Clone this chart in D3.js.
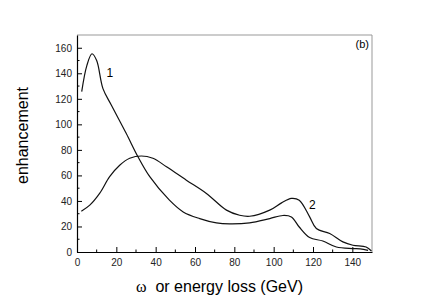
<!DOCTYPE html>
<html>
<head>
<meta charset="utf-8">
<script src="https://cdn.jsdelivr.net/npm/d3@7"></script>
<style>
  body { margin: 0; background: #fff; }
  text { font-family: "Liberation Sans", Arial, sans-serif; }
</style>
</head>
<body>
<svg width="434" height="303"></svg>
<script>
// curve 1: sharp peak near 8 GeV
const curve1X = [2.4, 5, 7.6, 10, 13.2, 17.5, 25, 31, 37, 47, 54, 62.4, 70.9, 77.6, 87.8, 98, 104.7, 109, 113, 118.3, 125, 131.9, 140.3, 144, 148];
const curve1Y = [125.7, 146, 155.3, 150, 128, 115, 93, 74.6, 59, 40.6, 31.4, 26.2, 22.8, 22, 22.8, 26.2, 28.6, 27.5, 19.6, 11.3, 8.6, 3.9, 2.7, 2.4, 1.3];
// curve 2: broad bump near 32 GeV
const curve2X = [2.2, 6.5, 11.5, 16.6, 21.7, 26.8, 32.7, 38.6, 45.5, 55.6, 65.8, 76, 82.7, 87.8, 98, 104, 109, 113, 118.3, 121.7, 128.5, 135.2, 140.3, 147, 149.7];
const curve2Y = [32, 36.7, 45.9, 59, 68, 73.4, 75.2, 73.4, 66.8, 56.3, 45.9, 32.8, 28.8, 28, 32.8, 38.5, 42, 40.6, 27.5, 18.4, 14.5, 7.9, 5.3, 3.9, 0.8];
const xTicks = [0, 20, 40, 60, 80, 100, 120, 140];
const yTicks = [0, 20, 40, 60, 80, 100, 120, 140, 160];

const svg = d3.select("svg");
const margin = { left: 77, right: 62, top: 35, bottom: 51 };
const width = 434 - margin.left - margin.right,
      height = 303 - margin.top - margin.bottom;

const x = d3.scaleLinear().domain([0, 150]).range([0, width]);
const y = d3.scaleLinear().domain([0, 170]).range([height, 0]);

const g = svg.append("g").attr("transform", `translate(${margin.left},${margin.top})`);

// top and right frame, light
g.append("path")
  .attr("d", `M0,0H${width}V${height}`)
  .attr("fill", "none")
  .attr("stroke", "#999")
  .attr("stroke-width", 1);

// minor ticks
g.append("g")
  .selectAll("line")
  .data(d3.range(10, 150, 20))
  .enter().append("line")
  .attr("x1", d => x(d)).attr("x2", d => x(d))
  .attr("y1", height).attr("y2", height - 2.5)
  .attr("stroke", "#000");
g.append("g")
  .selectAll("line")
  .data(d3.range(10, 170, 20))
  .enter().append("line")
  .attr("y1", d => y(d)).attr("y2", d => y(d))
  .attr("x1", 0).attr("x2", 2.5)
  .attr("stroke", "#000");

let xAxis = g.append("g")
  .attr("transform", `translate(0,${height})`)
  .call(d3.axisBottom(x).tickValues(xTicks).tickSizeInner(-5).tickSizeOuter(0).tickPadding(7));
let yAxis = g.append("g")
  .call(d3.axisLeft(y).tickValues(yTicks).tickSizeInner(-5).tickSizeOuter(0).tickPadding(5));

[xAxis, yAxis].forEach(a => {
  a.select(".domain").attr("stroke", "#000").attr("stroke-width", 1.2);
  a.selectAll("text")
    .attr("font-family", "Liberation Sans, Arial, sans-serif")
    .attr("font-size", 10)
    .attr("fill", "#222");
});
yAxis.selectAll("text").attr("dy", "0.35em");

const line = d3.line()
  .x(d => x(d[0]))
  .y(d => y(d[1]))
  .curve(d3.curveCatmullRom.alpha(0.5));

g.append("path")
  .datum(d3.zip(curve1X, curve1Y))
  .attr("d", line)
  .attr("fill", "none")
  .attr("stroke", "#111")
  .attr("stroke-width", 1.2);

g.append("path")
  .datum(d3.zip(curve2X, curve2Y))
  .attr("d", line)
  .attr("fill", "none")
  .attr("stroke", "#111")
  .attr("stroke-width", 1.2);

// curve labels
g.append("text").attr("x", x(15)).attr("y", y(140)).attr("dy", "0.35em")
  .attr("font-size", 12).text("1");
g.append("text").attr("x", x(118)).attr("y", y(37)).attr("dy", "0.35em")
  .attr("font-size", 12).text("2");
g.append("text").attr("x", width - 3).attr("y", 13)
  .attr("text-anchor", "end").attr("font-size", 11).text("(b)");

// axis titles
svg.append("text")
  .attr("transform", `translate(28,${margin.top + height / 2 - 8}) rotate(-90)`)
  .attr("text-anchor", "middle")
  .attr("font-size", 16)
  .text("enhancement");

let xt = svg.append("text")
  .attr("x", margin.left + width / 2 - 5)
  .attr("y", 292)
  .attr("text-anchor", "middle")
  .attr("font-size", 16);
xt.append("tspan").attr("font-family", "Liberation Serif, Times New Roman, serif").text("ω");
xt.append("tspan").text("\u00a0 or energy loss (GeV)");
</script>
</body>
</html>
